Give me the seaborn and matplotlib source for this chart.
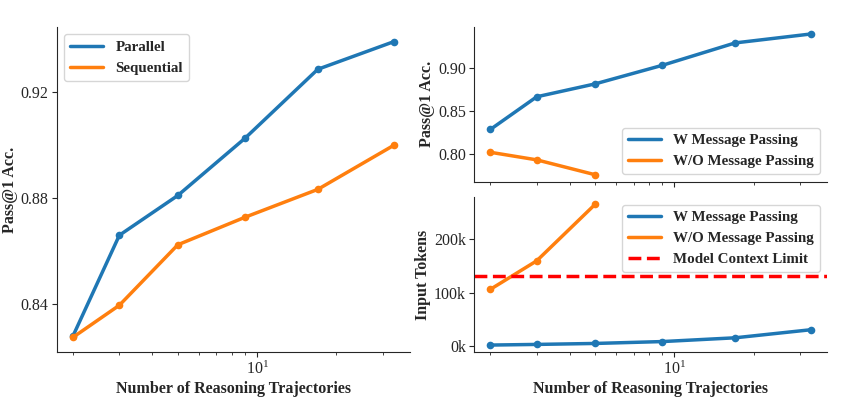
import numpy as np
import pandas as pd
import matplotlib
matplotlib.use("Agg")
import matplotlib.pyplot as plt
import seaborn as sns
from matplotlib.lines import Line2D
from matplotlib.ticker import FuncFormatter

# data
trajectories = [2, 3, 5, 9, 17, 33]
parallel_acc = [0.828, 0.866, 0.881, 0.9026, 0.9286, 0.939]
sequential_acc = [0.8275, 0.8396, 0.8624, 0.8728, 0.8833, 0.8999]

wo_trajectories = [2, 3, 5]
w_mp_acc = [0.828, 0.866, 0.881, 0.9026, 0.9286, 0.939]
wo_mp_acc = [0.8015, 0.7927, 0.7754]

w_mp_tokens = [2500, 3700, 5500, 9000, 16000, 31000]
wo_mp_tokens = [106000, 159000, 264000]
context_limit = 131072

sns.set_style("ticks")
plt.rcParams["font.family"] = ["Liberation Serif", "DejaVu Serif"]
plt.rcParams["mathtext.fontset"] = "stix"

blue = "#1f77b4"
orange = "#ff7f0e"
lw = 2.5
ms = 5.5

fig = plt.figure(figsize=(8.5, 4.08), dpi=100)
gs_left = fig.add_gridspec(1, 1, left=0.067, right=0.482, top=0.934, bottom=0.137)
gs_right = fig.add_gridspec(2, 1, left=0.558, right=0.973, top=0.934, bottom=0.137, hspace=0.1)
ax_l = fig.add_subplot(gs_left[0, 0])
ax_rt = fig.add_subplot(gs_right[0, 0])
ax_rb = fig.add_subplot(gs_right[1, 0], sharex=ax_rt)

label_kw = dict(fontsize=11.5, fontweight="bold", labelpad=2)
legend_kw = dict(prop={"weight": "bold", "size": 10.8}, fancybox=True, framealpha=0.8,
                 handlelength=2.2)


def line_handle(color, ls="-"):
    # legend shows plain lines, no markers
    return Line2D([], [], color=color, linewidth=lw, linestyle=ls)


# left: parallel vs sequential
left_df = pd.DataFrame({
    "n": trajectories * 2,
    "acc": parallel_acc + sequential_acc,
    "method": ["Parallel"] * 6 + ["Sequential"] * 6,
})
sns.lineplot(data=left_df, x="n", y="acc", hue="method", palette=[blue, orange],
             marker="o", markersize=ms, markeredgewidth=0, linewidth=lw, ax=ax_l)
ax_l.set_xscale("log")
ax_l.set_yticks([0.84, 0.88, 0.92])
ax_l.set_xlabel("Number of Reasoning Trajectories", **label_kw)
ax_l.set_ylabel("Pass@1 Acc.", **label_kw)
ax_l.legend([line_handle(blue), line_handle(orange)], ["Parallel", "Sequential"],
            loc="upper left", **legend_kw)

# right top: accuracy with / without message passing
rt_df = pd.DataFrame({
    "n": trajectories + wo_trajectories,
    "acc": w_mp_acc + wo_mp_acc,
    "method": ["W Message Passing"] * 6 + ["W/O Message Passing"] * 3,
})
sns.lineplot(data=rt_df, x="n", y="acc", hue="method", palette=[blue, orange],
             marker="o", markersize=ms, markeredgewidth=0, linewidth=lw, ax=ax_rt)
ax_rt.set_xscale("log")
ax_rt.set_yticks([0.80, 0.85, 0.90])
ax_rt.set_ylabel("Pass@1 Acc.", **label_kw)
ax_rt.set_xlabel("")
ax_rt.tick_params(axis="x", which="both", labelbottom=False)
ax_rt.legend([line_handle(blue), line_handle(orange)],
             ["W Message Passing", "W/O Message Passing"],
             loc="lower right", **legend_kw)

# right bottom: input tokens
rb_df = pd.DataFrame({
    "n": trajectories + wo_trajectories,
    "tokens": w_mp_tokens + wo_mp_tokens,
    "method": ["W Message Passing"] * 6 + ["W/O Message Passing"] * 3,
})
sns.lineplot(data=rb_df, x="n", y="tokens", hue="method", palette=[blue, orange],
             marker="o", markersize=ms, markeredgewidth=0, linewidth=lw, ax=ax_rb)
ax_rb.axhline(context_limit, color="red", linestyle="--", linewidth=lw)
ax_rb.set_yticks([0, 100000, 200000])
ax_rb.yaxis.set_major_formatter(FuncFormatter(lambda v, p: f"{int(v / 1000)}k"))
ax_rb.set_xlabel("Number of Reasoning Trajectories", **label_kw)
ax_rb.set_ylabel("Input Tokens", **label_kw)
ax_rb.legend([line_handle(blue), line_handle(orange), line_handle("red", "--")],
             ["W Message Passing", "W/O Message Passing", "Model Context Limit"],
             loc="upper right", **legend_kw)

for ax in (ax_l, ax_rt, ax_rb):
    sns.despine(ax=ax)
    ax.tick_params(labelsize=11.5, pad=2.5)

fig.savefig("out.png", dpi=100)
